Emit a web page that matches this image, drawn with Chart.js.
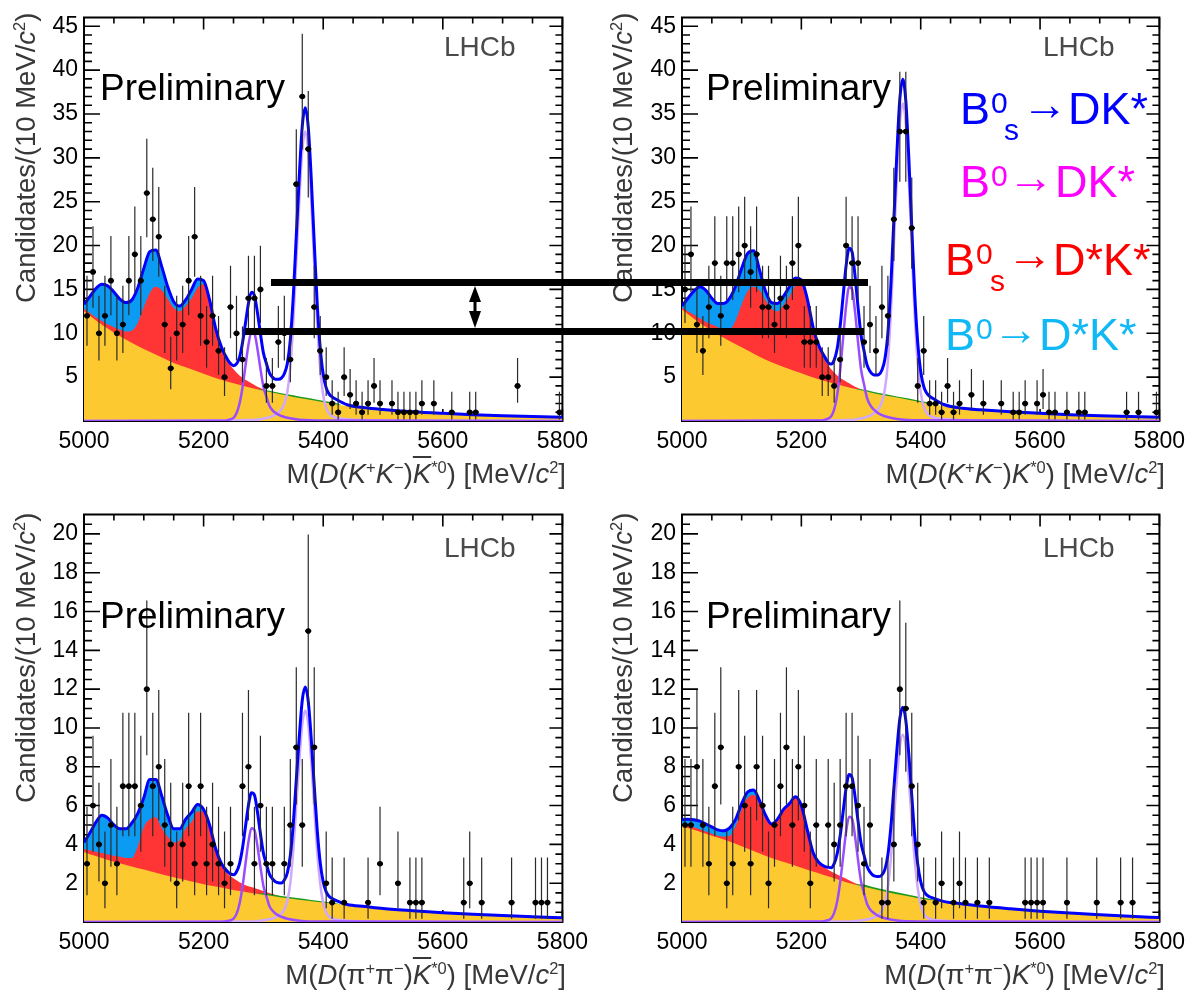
<!DOCTYPE html>
<html>
<head>
<meta charset="utf-8">
<script src="https://cdn.jsdelivr.net/npm/chart.js@4.4.1/dist/chart.umd.min.js"></script>
<style>
  body { margin: 0; background: #fff; font-family: 'Liberation Sans', Arial, sans-serif; }
  #page { position: relative; width: 1194px; height: 994px; overflow: hidden; }
  canvas { position: absolute; }
  .t { position: absolute; white-space: nowrap; }
  .prelim { font-size: 37px; line-height: 37px; color: #000; }
  .lhcb { font-size: 28px; line-height: 28px; color: #4a4a4a; }
  .xt { position: absolute; white-space: nowrap; font-size: 27.5px; line-height: 27.5px; color: #383838; }
  .yt { position: absolute; white-space: nowrap; font-size: 27.5px; line-height: 27.5px; color: #383838;
        transform: rotate(-90deg); transform-origin: 0 0; }
  .xt sup, .yt sup { font-size: 0.6em; line-height: 0; vertical-align: 0.6em; }
  .ob { text-decoration: overline; }
  .big { position: absolute; font-size: 45px; line-height: 45px; white-space: nowrap; }
  .sm { position: absolute; font-size: 30px; line-height: 30px; }
  .arw { position: absolute; font-size: 46px; line-height: 46px; }
  .bar { position: absolute; background: #000; z-index: 5; }
</style>
</head>
<body>
<div id="page">
  <canvas id="p1" width="597" height="497" style="left:0;top:0"></canvas>
  <canvas id="p2" width="597" height="497" style="left:597px;top:0"></canvas>
  <canvas id="p3" width="597" height="497" style="left:0;top:497px"></canvas>
  <canvas id="p4" width="597" height="497" style="left:597px;top:497px"></canvas>

  <!-- panel labels -->
  <div class="t lhcb" style="left:444px;top:33px">LHCb</div>
  <div class="t lhcb" style="left:1043px;top:33px">LHCb</div>
  <div class="t lhcb" style="left:444px;top:534px">LHCb</div>
  <div class="t lhcb" style="left:1043px;top:534px">LHCb</div>
  <div class="t prelim" style="left:100px;top:69px">Preliminary</div>
  <div class="t prelim" style="left:706px;top:69px">Preliminary</div>
  <div class="t prelim" style="left:100px;top:597px">Preliminary</div>
  <div class="t prelim" style="left:706px;top:597px">Preliminary</div>

  <!-- axis titles -->
  <div class="yt" style="left:12px;top:303px">Candidates/(10 MeV/<i>c</i><sup>2</sup>)</div>
  <div class="yt" style="left:609px;top:303px">Candidates/(10 MeV/<i>c</i><sup>2</sup>)</div>
  <div class="yt" style="left:12px;top:803px">Candidates/(10 MeV/<i>c</i><sup>2</sup>)</div>
  <div class="yt" style="left:609px;top:803px">Candidates/(10 MeV/<i>c</i><sup>2</sup>)</div>
  <div class="xt" style="right:628px;top:460px">M(<i>D</i>(<i>K</i><sup>+</sup><i>K</i><sup>&minus;</sup>)<i class="ob">K</i><sup>*0</sup>) [MeV/<i>c</i><sup>2</sup>]</div>
  <div class="xt" style="right:29px;top:460px">M(<i>D</i>(<i>K</i><sup>+</sup><i>K</i><sup>&minus;</sup>)<i>K</i><sup>*0</sup>) [MeV/<i>c</i><sup>2</sup>]</div>
  <div class="xt" style="right:628px;top:961px">M(<i>D</i>(&pi;<sup>+</sup>&pi;<sup>&minus;</sup>)<i class="ob">K</i><sup>*0</sup>) [MeV/<i>c</i><sup>2</sup>]</div>
  <div class="xt" style="right:29px;top:961px">M(<i>D</i>(&pi;<sup>+</sup>&pi;<sup>&minus;</sup>)<i>K</i><sup>*0</sup>) [MeV/<i>c</i><sup>2</sup>]</div>

  <!-- legend, top right panel -->
  <div style="color:#0000ff">
    <span class="big" style="left:960px;top:86px">B</span>
    <span class="sm" style="left:991px;top:88px">0</span>
    <span class="sm" style="left:1004px;top:115px">s</span>
    <span class="arw" style="left:1022px;top:81px">&rarr;</span>
    <span class="big" style="left:1068px;top:86px">DK*</span>
  </div>
  <div style="color:#ff00ff">
    <span class="big" style="left:960px;top:159px">B</span>
    <span class="sm" style="left:991px;top:161px">0</span>
    <span class="arw" style="left:1008px;top:154px">&rarr;</span>
    <span class="big" style="left:1055px;top:159px">DK*</span>
  </div>
  <div style="color:#ff0000">
    <span class="big" style="left:945px;top:237px">B</span>
    <span class="sm" style="left:976px;top:239px">0</span>
    <span class="sm" style="left:990px;top:266px">s</span>
    <span class="arw" style="left:1007px;top:231px">&rarr;</span>
    <span class="big" style="left:1053px;top:237px">D*K*</span>
  </div>
  <div style="color:#10b8f5">
    <span class="big" style="left:945px;top:312px">B</span>
    <span class="sm" style="left:976px;top:314px">0</span>
    <span class="arw" style="left:993px;top:306px">&rarr;</span>
    <span class="big" style="left:1039px;top:312px">D*K*</span>
  </div>

  <!-- comparison bars spanning the two top panels -->
  <div class="bar" style="left:271px;top:279px;width:597px;height:7px"></div>
  <div class="bar" style="left:245px;top:328px;width:619px;height:7px"></div>
  <svg style="position:absolute;left:0;top:0;z-index:6" width="1194" height="994">
    <line x1="475" y1="296" x2="475" y2="318" stroke="#000" stroke-width="3"/>
    <polygon points="475,286 469,302 481,302" fill="#000"/>
    <polygon points="475,328 469,311 481,311" fill="#000"/>
  </svg>
</div>

<script>
// ---- binning (10 MeV bins) ----
const binCentres = [5005, 5015, 5025, 5035, 5045, 5055, 5065, 5075, 5085, 5095,
  5105, 5115, 5125, 5135, 5145, 5155, 5165, 5175, 5185, 5195,
  5205, 5215, 5225, 5235, 5245, 5255, 5265, 5275, 5285, 5295,
  5305, 5315, 5325, 5335, 5345, 5355, 5365, 5375, 5385, 5395,
  5405, 5415, 5425, 5435, 5445, 5455, 5465, 5475, 5485, 5495,
  5505, 5515, 5525, 5535, 5545, 5555, 5565, 5575, 5585, 5595,
  5605, 5615, 5625, 5635, 5645, 5655, 5665, 5675, 5685, 5695,
  5705, 5715, 5725, 5735, 5745, 5755, 5765, 5775, 5785, 5795];

// ---- candidates per bin ----
const kkBarCounts = [12, 17, 10, 12, 16, 10, 11, 16, 19, 16,
  26, 23, 21, 11, 6, 10, 11, 16, 21, 12,
  9, 12, 8, 5, 13, 10, 7, 14, 14, 15,
  4, 4, 9, 10, 7, 27, 37, 31, 13, 8,
  5, 2, 1, 5, 3, 2, 1, 2, 4, 2,
  0, 2, 1, 1, 1, 1, 2, 0, 2, 0,
  0, 1, 0, 0, 1, 1, 0, 0, 0, 0,
  0, 0, 4, 0, 0, 0, 0, 0, 0, 1];
const kkCounts = [15, 19, 11, 8, 13, 18, 12, 18, 18, 19,
  20, 17, 19, 13, 13, 11, 14, 13, 18, 20,
  9, 9, 9, 5, 5, 4, 7, 20, 18, 18,
  9, 11, 8, 13, 12, 23, 33, 33, 22, 4,
  8, 2, 2, 1, 4, 1, 2, 0, 3, 0,
  2, 0, 0, 2, 0, 1, 1, 2, 0, 2,
  3, 1, 1, 0, 1, 0, 1, 1, 0, 0,
  0, 0, 0, 0, 1, 0, 1, 0, 0, 1];
const pipiBarCounts = [3, 6, 4, 2, 5, 3, 7, 7, 7, 6,
  12, 7, 8, 5, 4, 2, 4, 7, 3, 7,
  3, 4, 3, 2, 3, 0, 7, 8, 3, 6,
  3, 3, 0, 3, 5, 9, 5, 15, 9, 0,
  2, 1, 0, 1, 0, 0, 0, 1, 0, 3,
  0, 0, 2, 0, 1, 1, 1, 0, 0, 0,
  0, 0, 0, 1, 2, 0, 1, 0, 0, 0,
  0, 1, 0, 0, 0, 1, 1, 1, 0, 0];
const pipiCounts = [5, 5, 8, 5, 3, 7, 9, 2, 3, 8,
  6, 3, 8, 6, 2, 5, 7, 9, 5, 8,
  6, 2, 5, 0, 5, 4, 5, 7, 7, 6,
  3, 5, 0, 1, 1, 4, 12, 11, 7, 4,
  1, 0, 1, 2, 0, 1, 2, 1, 0, 1,
  0, 1, 0, 0, 0, 0, 0, 1, 1, 1,
  1, 0, 0, 0, 1, 0, 0, 0, 0, 1,
  0, 0, 0, 1, 0, 1, 0, 0, 0, 0];

// ---- fit curves: mass grids ----
const fitMass = [5000, 5010, 5020, 5030, 5040, 5050, 5060, 5070, 5080, 5090,
  5100, 5110, 5120, 5130, 5140, 5150, 5160, 5170, 5180, 5190,
  5200, 5210, 5220, 5230, 5240,
  5245, 5250, 5255, 5260, 5265, 5270, 5275, 5280, 5285, 5290,
  5295, 5300, 5305, 5310, 5315, 5320, 5325, 5330, 5335, 5340,
  5345, 5350, 5355, 5360, 5365, 5370, 5375, 5380, 5385, 5390,
  5395, 5400, 5405, 5410, 5415, 5420,
  5440, 5470, 5500, 5550, 5600, 5650, 5700, 5750, 5800];
const bumpMass = [5000, 5010, 5020, 5030, 5040, 5050, 5060, 5070, 5080, 5090,
  5100, 5110, 5120, 5130, 5140, 5150, 5160, 5170, 5180, 5190,
  5200, 5210, 5220, 5230, 5240, 5250, 5260, 5270, 5280, 5290,
  5300, 5310, 5320, 5330];
const bkgMass = [5000, 5025, 5050, 5075, 5100, 5125, 5150, 5175, 5200, 5225,
  5250, 5275, 5300, 5325, 5350, 5375, 5400, 5450, 5500, 5550,
  5600, 5650, 5700, 5750, 5800];
const greenMass = [5290, 5300, 5320, 5340, 5360, 5380, 5400, 5420, 5430];
const b0Mass = [5000, 5230, 5240, 5250, 5255, 5260, 5265, 5270, 5275, 5280,
  5285, 5290, 5295, 5300, 5305, 5310, 5315, 5320, 5325, 5330,
  5340, 5360, 5400, 5800];
const bsMass = [5000, 5280, 5300, 5310, 5320, 5330, 5335, 5340, 5345, 5350,
  5355, 5360, 5365, 5370, 5375, 5380, 5385, 5390, 5395, 5400,
  5405, 5410, 5420, 5440, 5470, 5500, 5800];

// ---- panel 1: D(KK) Kbar*0 ----
const kkBarTotal = [13.3, 14.2, 15.1, 15.6, 15.4, 14.7, 13.9, 13.5, 13.8, 15.2,
  17.4, 19.3, 19.5, 17.6, 15.3, 13.6, 13.1, 13.8, 15.0, 16.2,
  16.0, 13.8, 10.6, 8.4, 7.0,
  6.54, 6.31, 6.5, 7.26, 8.89, 11.15, 13.4, 14.69, 14.31, 12.37,
  9.97, 7.77, 6.56, 5.48, 5.0, 4.76, 4.76, 4.89, 5.39, 6.56,
  9.26, 14.28, 21.1, 27.93, 33.63, 35.7, 33.49, 27.65, 20.33, 13.34,
  8.34, 5.32, 3.78, 3.07, 2.74, 2.53,
  1.85, 1.5, 1.3, 1.05, 0.87, 0.72, 0.6, 0.5, 0.42];
const kkBarRed = [12.8, 12.3, 11.8, 11.4, 11.0, 10.7, 10.4, 10.2, 10.3, 11.2,
  13.0, 14.6, 15.3, 14.9, 13.9, 12.9, 12.5, 13.1, 14.0, 15.2,
  15.6, 13.5, 10.4, 8.2, 6.8, 5.9, 5.2, 4.7, 4.3, 3.9,
  3.6, 3.3, 3.1, 3.0];
const kkBarComb = [12.5, 11.2, 10.1, 9.1, 8.2, 7.4, 6.6, 6.0, 5.4, 4.8,
  4.3, 3.85, 3.45, 3.1, 2.75, 2.45, 2.15, 1.6, 1.25, 1.02,
  0.84, 0.7, 0.58, 0.48, 0.4];
const kkBarGreen = [3.61, 3.57, 3.32, 3.05, 2.8, 2.56, 2.3, 2.07, 1.82];
const kkBarB0 = [0, 0.03, 0.1, 0.36, 0.88, 1.96, 3.81, 6.28, 8.7, 10.16,
  9.98, 8.24, 5.97, 3.91, 2.78, 1.75, 1.24, 0.93, 0.72, 0.57,
  0.36, 0.15, 0.05, 0];
const kkBarBs = [0, 0.1, 0.26, 0.43, 0.73, 1.32, 1.98, 3.3, 6.1, 11.22,
  18.15, 25.08, 30.86, 33, 30.86, 25.08, 17.82, 10.89, 5.94, 2.97,
  1.49, 0.83, 0.4, 0.2, 0.1, 0.07, 0];

// ---- panel 2: D(KK) K*0 ----
const kkTotal = [13.1, 14.0, 14.8, 15.3, 14.9, 14.0, 13.4, 13.4, 14.0, 15.4,
  17.4, 19.1, 19.4, 17.2, 14.8, 13.5, 13.4, 14.2, 15.3, 16.3,
  16.1, 13.9, 10.6, 8.5, 7.2,
  6.65, 6.49, 6.94, 8.23, 10.79, 14.26, 17.71, 19.69, 19.27, 16.5,
  12.99, 9.78, 8.0, 6.41, 5.68, 5.3, 5.23, 5.3, 5.82, 7.06,
  10.02, 15.5, 22.96, 30.44, 36.69, 38.96, 36.52, 30.11, 22.1, 14.44,
  8.95, 5.64, 3.95, 3.18, 2.81, 2.59,
  1.85, 1.45, 1.28, 1.05, 0.87, 0.72, 0.6, 0.5, 0.42];
const kkRed = [12.9, 12.5, 12.1, 11.7, 11.3, 11.0, 10.7, 10.5, 10.5, 11.5,
  13.3, 14.8, 15.3, 14.9, 13.8, 12.8, 12.5, 13.2, 14.2, 15.4,
  15.8, 13.7, 10.5, 8.3, 6.9, 5.9, 5.2, 4.7, 4.3, 3.9,
  3.6, 3.3, 3.2, 3.0];
const kkComb = [12.7, 11.4, 10.3, 9.3, 8.4, 7.5, 6.7, 6.05, 5.45, 4.85,
  4.35, 3.9, 3.5, 3.12, 2.78, 2.48, 2.15, 1.6, 1.25, 1.02,
  0.84, 0.7, 0.58, 0.48, 0.4];
const kkGreen = [3.66, 3.62, 3.34, 3.07, 2.8, 2.56, 2.28, 2.02, 1.82];
const kkB0 = [0, 0.05, 0.16, 0.54, 1.32, 2.95, 5.74, 9.46, 13.1, 15.28,
  15.02, 12.4, 8.99, 5.89, 4.19, 2.64, 1.86, 1.4, 1.09, 0.85,
  0.54, 0.23, 0.08, 0];
const kkBs = [0, 0.11, 0.29, 0.47, 0.8, 1.45, 2.17, 3.62, 6.7, 12.31,
  19.91, 27.51, 33.85, 36.2, 33.85, 27.51, 19.55, 11.95, 6.52, 3.26,
  1.63, 0.91, 0.43, 0.22, 0.11, 0.07, 0];

// ---- panel 3: D(pipi) Kbar*0 ----
const pipiBarTotal = [4.1, 4.6, 5.15, 5.5, 5.35, 5.0, 4.8, 4.8, 5.1, 5.6,
  6.4, 7.35, 7.35, 6.5, 5.5, 4.8, 4.8, 5.3, 5.65, 6.05,
  5.8, 5.0, 3.8, 3.0, 2.6,
  2.48, 2.43, 2.59, 3.0, 3.8, 4.91, 6.02, 6.66, 6.54, 5.68,
  4.56, 3.55, 2.98, 2.47, 2.23, 2.08, 2.02, 2.01, 2.17, 2.53,
  3.42, 5.07, 7.32, 9.55, 11.43, 12.11, 11.37, 9.44, 7.03, 4.72,
  3.06, 2.06, 1.55, 1.31, 1.21, 1.13,
  0.9, 0.8, 0.7, 0.58, 0.48, 0.4, 0.33, 0.27, 0.22];
const pipiBarRed = [3.75, 3.7, 3.62, 3.55, 3.48, 3.42, 3.36, 3.3, 3.3, 3.9,
  4.9, 5.3, 5.4, 4.85, 4.4, 4.1, 4.2, 4.8, 5.15, 5.7,
  5.7, 5.0, 3.8, 3.0, 2.5, 2.25, 2.05, 1.9, 1.8, 1.7,
  1.6, 1.5, 1.4, 1.3];
const pipiBarComb = [3.6, 3.35, 3.1, 2.9, 2.7, 2.5, 2.3, 2.12, 1.95, 1.8,
  1.65, 1.52, 1.4, 1.29, 1.18, 1.09, 1.0, 0.84, 0.69, 0.57,
  0.47, 0.39, 0.32, 0.26, 0.21];
const pipiBarGreen = [1.45, 1.48, 1.39, 1.3, 1.22, 1.14, 1.06, 0.98, 0.9];
const pipiBarB0 = [0, 0.01, 0.05, 0.17, 0.42, 0.93, 1.81, 2.99, 4.14, 4.83,
  4.75, 3.92, 2.84, 1.86, 1.32, 0.83, 0.59, 0.44, 0.34, 0.27,
  0.17, 0.07, 0.02, 0];
const pipiBarBs = [0, 0.03, 0.09, 0.14, 0.24, 0.44, 0.65, 1.09, 2.02, 3.71,
  6.0, 8.28, 10.19, 10.9, 10.19, 8.28, 5.89, 3.6, 1.96, 0.98,
  0.49, 0.27, 0.13, 0.07, 0.03, 0.02, 0];

// ---- panel 4: D(pipi) K*0 ----
const pipiTotal = [5.27, 5.3, 5.27, 5.2, 5.05, 4.9, 4.75, 4.7, 4.85, 5.3,
  6.1, 6.7, 6.8, 6.25, 5.5, 5.05, 5.3, 5.8, 6.1, 6.45,
  6.0, 4.75, 3.55, 3.05, 2.85,
  2.82, 2.8, 3.01, 3.52, 4.43, 5.68, 6.9, 7.6, 7.44, 6.45,
  5.2, 4.07, 3.44, 2.87, 2.58, 2.41, 2.35, 2.34, 2.43, 2.71,
  3.46, 4.9, 6.87, 8.83, 10.48, 11.07, 10.4, 8.67, 6.52, 4.45,
  2.98, 2.08, 1.61, 1.4, 1.3, 1.24,
  1.05, 0.93, 0.82, 0.68, 0.56, 0.46, 0.37, 0.29, 0.23];
const pipiRed = [5.05, 4.97, 4.88, 4.78, 4.66, 4.55, 4.45, 4.4, 4.45, 4.95,
  5.8, 6.4, 6.55, 6.15, 5.45, 5.0, 5.25, 5.75, 6.05, 6.4,
  5.95, 4.7, 3.5, 3.0, 2.8, 2.6, 2.45, 2.3, 2.15, 2.0,
  1.9, 1.8, 1.7, 1.65];
const pipiComb = [4.95, 4.7, 4.45, 4.2, 3.9, 3.6, 3.3, 3.05, 2.8, 2.55,
  2.3, 2.05, 1.85, 1.67, 1.5, 1.35, 1.2, 1.0, 0.8, 0.67,
  0.55, 0.45, 0.36, 0.28, 0.22];
const pipiGreen = [1.93, 1.95, 1.8, 1.66, 1.53, 1.4, 1.27, 1.16, 1.08];
const pipiB0 = [0, 0.02, 0.06, 0.19, 0.47, 1.05, 2.04, 3.36, 4.65, 5.42,
  5.33, 4.4, 3.19, 2.09, 1.49, 0.94, 0.66, 0.5, 0.39, 0.3,
  0.19, 0.08, 0.03, 0];
const pipiBs = [0, 0.03, 0.08, 0.13, 0.21, 0.39, 0.58, 0.97, 1.79, 3.28,
  5.31, 7.33, 9.02, 9.65, 9.02, 7.33, 5.21, 3.18, 1.74, 0.87,
  0.43, 0.24, 0.12, 0.06, 0.03, 0.02, 0];

// cyan (B0 -> D*K*) area is the total curve where it sits on top of the stack
const CYAN_END = 25;

Chart.defaults.font.family = "'Liberation Sans', Arial, sans-serif";

const zip = (xs, ys) => xs.map((x, i) => ({ x: x, y: ys[i] }));

// Gehrels approximation of the 68% Poisson interval
const poissonLow = n => n * Math.pow(1 - 1 / (9 * n) - 1 / (3 * Math.sqrt(n)), 3);
const poissonHigh = n => n + 1 + Math.sqrt(n + 0.75);

// frame with ROOT-style inward ticks on all four sides
const frameTicks = {
  id: 'frameTicks',
  beforeDatasetsDraw(chart, args, opts) {
    const { ctx, chartArea: a } = chart;
    const x = chart.scales.x, y = chart.scales.y;
    ctx.save();
    ctx.strokeStyle = '#000';
    ctx.lineWidth = 1.6;
    ctx.beginPath();
    for (let v = x.min; v <= x.max; v += opts.xMinor) {
      const px = x.getPixelForValue(v);
      const len = v % opts.xMajor === 0 ? 12 : 6;
      ctx.moveTo(px, a.bottom); ctx.lineTo(px, a.bottom - len);
      ctx.moveTo(px, a.top); ctx.lineTo(px, a.top + len);
    }
    for (let i = 1; i * opts.yMinor < y.max; i++) {
      const v = i * opts.yMinor;
      const py = y.getPixelForValue(v);
      const r = v / opts.yMajor;
      const major = Math.abs(r - Math.round(r)) < 1e-6;
      ctx.moveTo(a.left, py); ctx.lineTo(a.left + (major ? 16 : 8), py);
      ctx.moveTo(a.right, py); ctx.lineTo(a.right - (major ? 13 : 7), py);
    }
    ctx.stroke();
    ctx.lineWidth = 2;
    ctx.strokeRect(a.left, a.top, a.right - a.left, a.bottom - a.top);
    ctx.restore();
  }
};

// vertical Poisson error bars and horizontal bin-width bars for the data
const errorBars = {
  id: 'errorBars',
  beforeDatasetDraw(chart, args) {
    if (chart.data.datasets[args.index].label !== 'data') return;
    const { ctx, chartArea: a } = chart;
    const x = chart.scales.x, y = chart.scales.y;
    ctx.save();
    ctx.beginPath();
    ctx.rect(a.left, a.top, a.right - a.left, a.bottom - a.top);
    ctx.clip();
    chart.data.datasets[args.index].data.forEach(p => {
      const px = x.getPixelForValue(p.x);
      ctx.strokeStyle = '#2a2a2a';
      ctx.lineWidth = 1.2;
      ctx.beginPath();
      ctx.moveTo(px, y.getPixelForValue(poissonLow(p.y)));
      ctx.lineTo(px, y.getPixelForValue(poissonHigh(p.y)));
      ctx.stroke();
      ctx.strokeStyle = '#000';
      ctx.lineWidth = 2;
      ctx.beginPath();
      ctx.moveTo(x.getPixelForValue(p.x - 5), y.getPixelForValue(p.y));
      ctx.lineTo(x.getPixelForValue(p.x + 5), y.getPixelForValue(p.y));
      ctx.stroke();
    });
    ctx.restore();
  }
};

function area(label, xs, ys, colour, order) {
  return {
    label: label, data: zip(xs, ys), order: order,
    borderColor: 'transparent', borderWidth: 0, backgroundColor: colour,
    fill: 'origin', pointRadius: 0, cubicInterpolationMode: 'monotone'
  };
}

function curve(label, xs, ys, colour, width, order) {
  return {
    label: label, data: zip(xs, ys), order: order,
    borderColor: colour, borderWidth: width, fill: false,
    pointRadius: 0, cubicInterpolationMode: 'monotone'
  };
}

function drawPanel(id, p) {
  const points = binCentres.map((m, i) => ({ x: m, y: p.counts[i] })).filter(d => d.y > 0);
  new Chart(document.getElementById(id), {
    type: 'line',
    data: {
      datasets: [
        { label: 'data', data: points, order: 0, showLine: false,
          pointRadius: 2.8, pointHoverRadius: 0, pointBorderWidth: 0, pointBackgroundColor: '#000' },
        curve('total', fitMass, p.total, '#0000ff', 3, 1),
        curve('B0 -> DK*', b0Mass, p.b0, '#9a4cff', 2.5, 2),
        curve('Bs -> DK*', bsMass, p.bs, '#cfa8ff', 2.5, 3),
        area('combinatorial', bkgMass, p.comb, '#fdc931', 4),
        area('other', greenMass, p.green, '#1f9a1f', 5),
        area('Bs -> D*K*', bumpMass, p.red, '#ff3535', 6),
        area('B0 -> D*K*', fitMass.slice(0, CYAN_END), p.total.slice(0, CYAN_END), '#0c9bf2', 7)
      ]
    },
    options: {
      responsive: false,
      devicePixelRatio: 1,
      animation: false,
      events: [],
      layout: { padding: { left: 0, top: p.padTop, right: p.padRight, bottom: 0 } },
      plugins: {
        legend: { display: false },
        tooltip: { enabled: false },
        frameTicks: { xMinor: 50, xMajor: 200, yMinor: p.yMinor, yMajor: p.yMajor }
      },
      scales: {
        x: {
          type: 'linear', min: 5000, max: 5800,
          grid: { display: false, drawTicks: false },
          border: { display: false },
          ticks: { stepSize: 200, color: '#000', padding: 9, maxRotation: 0,
                   font: { size: 23, lineHeight: 1 },
                   callback: v => String(v) },
          afterFit: s => { s.height = p.xAxisHeight; }
        },
        y: {
          min: 0, max: p.yMax,
          grid: { display: false, drawTicks: false },
          border: { display: false },
          ticks: { stepSize: p.yMajor, includeBounds: false, color: '#000', padding: 6,
                   font: { size: 23, lineHeight: 1 },
                   callback: v => (v === 0 ? '' : String(v)) },
          afterFit: s => { s.width = p.axisLeft; }
        }
      }
    },
    plugins: [frameTicks, errorBars]
  });
}

drawPanel('p1', { counts: kkBarCounts, total: kkBarTotal, red: kkBarRed, comb: kkBarComb,
  green: kkBarGreen, b0: kkBarB0, bs: kkBarBs,
  yMax: 46, yMajor: 5, yMinor: 1, padTop: 12, padRight: 31, axisLeft: 84, xAxisHeight: 76 });
drawPanel('p2', { counts: kkCounts, total: kkTotal, red: kkRed, comb: kkComb,
  green: kkGreen, b0: kkB0, bs: kkBs,
  yMax: 46, yMajor: 5, yMinor: 1, padTop: 12, padRight: 30, axisLeft: 85, xAxisHeight: 76 });
drawPanel('p3', { counts: pipiBarCounts, total: pipiBarTotal, red: pipiBarRed, comb: pipiBarComb,
  green: pipiBarGreen, b0: pipiBarB0, bs: pipiBarBs,
  yMax: 21, yMajor: 2, yMinor: 0.5, padTop: 15, padRight: 31, axisLeft: 84, xAxisHeight: 72 });
drawPanel('p4', { counts: pipiCounts, total: pipiTotal, red: pipiRed, comb: pipiComb,
  green: pipiGreen, b0: pipiB0, bs: pipiBs,
  yMax: 21, yMajor: 2, yMinor: 0.5, padTop: 15, padRight: 30, axisLeft: 85, xAxisHeight: 72 });
</script>
</body>
</html>
